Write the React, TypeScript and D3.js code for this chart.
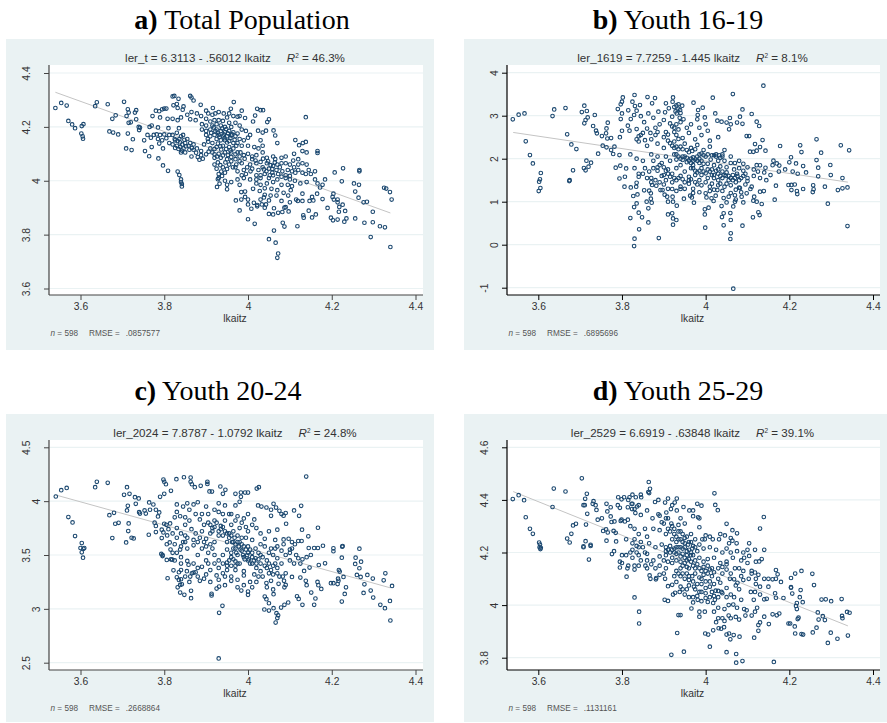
import * as d3 from 'd3'
import React, { useEffect, useRef } from 'react'

type Pt = [number, number]

const panelLetters = ['a)', 'b)', 'c)', 'd)']
const panelNames = ['Total Population', 'Youth 16-19', 'Youth 20-24', 'Youth 25-29']
const equations = ['ler_t = 6.3113 - .56012 lkaitz', 'ler_1619 = 7.7259 - 1.445 lkaitz', 'ler_2024 = 7.8787 - 1.0792 lkaitz', 'ler_2529 = 6.6919 - .63848 lkaitz']
const rSquared = ['46.3%', '8.1%', '24.8%', '39.1%']
const rmse = ['.0857577', '.6895696', '.2668864', '.1131161']
const intercepts = [6.3113, 7.7259, 7.8787, 6.6919]
const slopes = [-0.56012, -1.445, -1.0792, -0.63848]
const fitRange = [3.54, 4.34]
const xTicks = [3.6, 3.8, 4, 4.2, 4.4]
const yTicks = [
  [3.6, 3.8, 4, 4.2, 4.4],
  [-1, 0, 1, 2, 3, 4],
  [2.5, 3, 3.5, 4, 4.5],
  [3.8, 4, 4.2, 4.4, 4.6],
]

const totalPts: Pt[] = [
  [3.54,4.27],[3.554,4.289],[3.567,4.279],[3.571,4.222],[3.58,4.209],[3.587,4.195],[3.603,4.203],[3.607,4.21],[3.602,4.175],[3.605,4.165],[3.606,4.156],
  [3.635,4.277],[3.639,4.291],[3.665,4.284],[3.684,4.243],[3.676,4.23],[3.704,4.293],[3.713,4.265],[3.71,4.24],[3.715,4.253],[3.733,4.228],[3.733,4.262],[3.73,4.253],
  [3.669,4.183],[3.678,4.179],[3.69,4.172],[3.713,4.175],[3.725,4.154],[3.709,4.12],[3.722,4.114],[3.754,4.11],[3.764,4.091],[3.786,4.083],[3.797,4.057],[3.809,4.037],[3.715,4.215],[3.72,4.217],[3.739,4.2],[3.742,4.197],[3.74,4.188],
  [3.752,4.15],[3.765,4.2],[3.77,4.205],[3.785,4.198],[3.76,4.17],[3.775,4.17],[3.782,4.172],[3.79,4.17],[3.8,4.172],[3.768,4.16],[3.785,4.155],[3.795,4.15],[3.805,4.158],[3.788,4.138],[3.797,4.12],[3.77,4.125],[3.812,4.17],[3.82,4.17],[3.83,4.178],[3.812,4.14],[3.825,4.155],[3.836,4.155],[3.84,4.165],[3.845,4.17],[3.82,4.135],[3.83,4.13],[3.838,4.125],[3.85,4.14],[3.846,4.12],[3.855,4.155],[3.862,4.14],[3.87,4.135],[3.84,4.105],[3.85,4.105],[3.86,4.115],[3.87,4.115],[3.878,4.12],[3.888,4.11],[3.888,4.095],[3.865,4.09],[3.88,4.088],[3.892,4.082],
  [3.78,4.26],[3.788,4.258],[3.795,4.265],[3.8,4.268],[3.805,4.268],[3.772,4.24],[3.79,4.235],[3.808,4.23],[3.81,4.195],[3.82,4.23],[3.832,4.225],[3.835,4.195],[3.84,4.235],[3.82,4.313],[3.824,4.315],[3.834,4.304],[3.822,4.28],[3.83,4.285],[3.832,4.27],[3.846,4.276],[3.844,4.264],[3.862,4.315],[3.865,4.309],[3.87,4.298],[3.887,4.282],[3.916,4.27],[3.959,4.267],[3.966,4.292],[3.985,4.26],[4.022,4.267],[4.03,4.262],[4.036,4.262],[4.017,4.242],[4.012,4.22],[3.993,4.233],[3.98,4.24],[3.975,4.238],[4.046,4.218],[4.05,4.228],[4.043,4.186],[4.024,4.186],[4.035,4.179],[4.061,4.187],[4.065,4.168],[4.07,4.14],[4.113,4.151],[4.122,4.132],[4.131,4.14],[4.138,4.144],
  [3.855,4.245],[3.865,4.255],[3.878,4.25],[3.862,4.228],[3.875,4.225],[3.888,4.24],[3.9,4.26],[3.905,4.25],[3.915,4.245],[3.922,4.25],[3.93,4.255],[3.942,4.25],[3.955,4.25],[3.965,4.24],[3.95,4.235],[3.9,4.23],[3.91,4.22],[3.92,4.225],[3.93,4.225],[3.94,4.222],[3.955,4.215],[3.97,4.215],[3.98,4.205],[3.89,4.21],[3.9,4.205],[3.915,4.205],[3.925,4.21],[3.935,4.205],[3.945,4.2],[3.96,4.2],
  [3.89,4.19],[3.9,4.185],[3.91,4.19],[3.925,4.19],[3.935,4.185],[3.945,4.18],[3.955,4.185],[3.965,4.18],[3.975,4.175],[3.985,4.19],[3.995,4.185],[3.9,4.17],[3.91,4.165],[3.92,4.17],[3.93,4.17],[3.94,4.165],[3.95,4.165],[3.96,4.168],[3.97,4.165],[3.98,4.155],[3.99,4.15],[4,4.16],[4.005,4.17],[3.925,4.155],[3.935,4.15],[3.945,4.15],[3.955,4.148],[3.965,4.14],[3.975,4.14],[3.905,4.145],[3.915,4.14],[3.895,4.135],[3.91,4.12],[3.925,4.125],[3.94,4.13],[3.955,4.125],[3.965,4.12],[3.985,4.13],[4,4.13],[4.015,4.125],[4.03,4.15],[4.025,4.12],[4.035,4.13],
  [3.915,4.105],[3.93,4.1],[3.945,4.105],[3.96,4.105],[3.975,4.105],[3.99,4.095],[3.92,4.085],[3.935,4.085],[3.95,4.08],[3.97,4.08],[3.98,4.09],[4,4.1],[4.01,4.09],[4.02,4.095],[4.035,4.105],[4.045,4.085],[4.06,4.09],[4.065,4.08],[4.08,4.085],[4.09,4.09],[4.11,4.1],[4.13,4.11],[4.14,4.105],[4.166,4.11],[4.166,4.103],
  [3.92,4.06],[3.925,4.045],[3.93,4.025],[3.94,4.05],[3.945,4.03],[3.955,4.06],[3.97,4.05],[3.975,4.035],[3.985,4.065],[3.99,4.04],[3.995,4.025],[4.005,4.06],[4.01,4.045],[4.02,4.065],[4.025,4.04],[4.035,4.05],[4.045,4.065],[4.05,4.045],[4.06,4.055],[4.07,4.06],[4.08,4.065],[4.09,4.065],[4.1,4.06],[4.11,4.05],[4.12,4.06],[4.13,4.065],[4.14,4.06],[4.105,4.035],[4.113,4.03],[4.12,4.04],[4.13,4.03],[4.138,4.025],[4.145,4.04],[4.15,4.025],[4.16,4.035],[4.266,4.04],[4.266,4.035],[4.227,4.046],[4.207,4.031],[4.184,4.005],[4.16,4.005],
  [4.02,4.02],[4.03,4.01],[4.04,4.025],[4.05,4.01],[4.06,4.02],[4.07,4.005],[4.08,4.015],[4.09,4.02],[4.1,4.005],[4.112,4],[4.125,3.99],[4.14,3.995],[3.93,4.01],[3.945,4],[3.96,3.995],[3.975,4.005],[3.99,4.01],[4.005,4.005],[4.02,3.99],[4.03,3.985],[4.045,3.99],[4.06,3.995],[4.08,3.985],[4.095,3.985],[4.105,3.98],
  [3.842,3.979],[3.84,3.995],[3.926,3.977],[3.932,3.989],[3.95,3.985],[3.95,3.968],[3.971,3.927],[3.98,3.89],[3.984,3.93],[3.98,3.985],[3.984,3.958],[3.993,3.96],[3.993,3.94],[4,3.93],[4,3.912],[4.008,3.896],[4,3.857],[4.016,3.84],[4.014,3.918],[4.022,3.91],[4.022,3.905],[4.033,3.912],[4.043,3.912],[4.04,3.9],[4.05,3.927],[4.04,3.948],[4.038,3.938],[4.05,3.877],[4.06,3.875],[4.062,3.898],[4.072,3.881],[4.082,3.884],[4.087,3.9],[4.09,3.902],[4.097,3.886],[4.083,3.844],[4.087,3.83],[4.062,3.815],[4.05,3.783],[4.066,3.77],[4.072,3.73],[4.07,3.714],[4.118,3.831],[4.115,3.93],[4.119,3.925],[4.13,3.925],[4.13,3.952],[4.132,3.872],[4.133,3.863],[4.145,3.889],[4.147,3.925],[4.153,3.94],[4.156,3.927],[4.153,3.864],[4.162,3.875],[4.165,3.952],[4.178,3.932],[4.19,3.899],[4.198,3.863],[4.203,3.853],[4.214,3.856],[4.23,3.848],[4.235,3.86],[4.232,3.888],[4.226,3.911],[4.217,3.885],[4.218,3.903],[4.214,3.93],[4.214,3.92],[4.204,3.952],[4.202,3.94],[4.205,3.93],[4.256,3.86],[4.278,3.844],[4.298,3.885],[4.298,3.846],[4.293,3.791],[4.315,3.831],[4.327,3.827],[4.34,3.754],[4.343,3.93],[4.339,3.958],[4.325,3.974],[4.33,3.971],[4.284,3.922],[4.276,3.92],[4.264,3.937],[4.256,3.96],[4.253,3.99],[4.265,3.985],[4.224,3.998],[4.138,4.236],[4.166,3.99],[4.178,3.985],[4.172,3.975],
  // dense centre, second pass
  [3.832,4.034],[3.836,4.021],[3.84,4.005],[3.842,3.988],[3.826,4.15],[3.832,4.148],[3.838,4.142],[3.843,4.135],[3.826,4.122],[3.834,4.118],[3.842,4.112],[3.848,4.152],[3.852,4.128],[3.858,4.13],[3.866,4.122],[3.876,4.104],[3.884,4.078],[3.9,4.098],[3.906,4.108],[3.904,4.155],[3.912,4.178],[3.918,4.198],[3.922,4.184],[3.928,4.178],[3.932,4.162],[3.938,4.194],[3.942,4.172],[3.948,4.192],[3.952,4.176],[3.944,4.158],[3.95,4.142],[3.958,4.158],[3.962,4.172],[3.968,4.152],[3.972,4.13],[3.928,4.138],[3.934,4.128],[3.92,4.118],[3.936,4.116],[3.948,4.118],[3.958,4.112],[3.97,4.098],[3.982,4.105],[3.92,4.098],[3.926,4.09],[3.94,4.094],[3.952,4.096],[3.96,4.088],[3.972,4.06],[3.98,4.072],[3.992,4.082],[3.928,4.068],[3.934,4.058],[3.946,4.068],[3.96,4.072],[3.964,4.05],[3.95,4.044],[3.936,4.034],[3.928,4.006],[3.938,4.018],[4.01,4.08],[4.018,4.075],[4.03,4.07],[4.036,4.082],[4.048,4.072],[4.054,4.058],[4.058,4.044],[4.064,4.068],[4.068,4.04],[4.072,4.025],[4.076,4.05],[4.082,4.035],[4.058,4.03],[4.052,4.02],[4.044,4.035],[4.038,4.042],[4.03,4.02],[4.095,4.04],[4.1,4.018],[4.09,4.01],[4.108,4.075],[4.12,4.08],[4.02,4.005],[4.006,4.035],[3.998,4.05],[3.985,4.02],[4.012,3.97],[4.028,3.962],[4.04,3.972],[4.056,3.97],[4.07,3.965],[4.085,3.955],[4.096,3.945],[4.102,3.965],[4.068,3.945],[4.054,3.945],[4.03,3.93],[4.08,3.925],[4.1,3.92],
]

const y1619Pts: Pt[] = [
  [3.539,2.915],[3.553,3.023],[3.567,3.054],[3.57,2.403],[3.58,2.085],[3.587,1.891],[3.606,1.667],[3.604,1.52],[3.602,1.465],[3.605,1.318],[3.601,1.248],[3.634,2.992],[3.638,3.147],[3.665,3.178],[3.669,2.566],[3.679,2.333],[3.691,2.225],[3.683,1.729],[3.675,1.5],[3.674,1.48],[3.704,3.085],[3.71,3.233],[3.716,3.109],[3.718,2.961],[3.713,2.9],[3.71,2.822],[3.735,3.016],[3.731,2.76],[3.738,2.651],[3.74,2.59],[3.715,1.953],[3.709,1.783],[3.713,1.729],[3.72,1.814],[3.726,1.907],[3.743,2.116],[3.752,2.527],
  [3.766,2.837],[3.763,2.705],[3.762,2.59],[3.765,2.47],[3.774,2.48],[3.754,2.302],[3.763,2.264],[3.774,2.2],[3.782,2.279],[3.779,2.109],[3.794,2.085],[3.785,1.791],[3.796,1.837],[3.794,1.54],[3.807,1.58],[3.81,1.775],[3.802,3.426],[3.8,3.326],[3.797,3.264],[3.79,3.155],[3.8,3.054],[3.797,2.922],[3.815,3.124],[3.83,3.481],[3.825,3.326],[3.831,3.225],[3.843,3.248],[3.835,3.116],[3.829,3.016],[3.821,2.922],[3.814,2.767],[3.835,2.69],[3.818,2.651],[3.8,2.65],[3.795,2.5],
  [3.861,3.434],[3.879,3.411],[3.872,3.287],[3.887,3.093],[3.863,3.054],[3.905,3.287],[3.922,3.426],[3.921,3.326],[3.912,3.171],[3.903,3.078],[3.935,3.264],[3.944,3.233],[3.939,3.132],[3.931,3.054],[3.92,2.977],[3.947,2.915],[3.971,3.302],[3.982,3.132],[3.993,3.186],[3.981,3.016],[3.98,2.915],[3.998,2.961],[4.017,3.419],[4.023,3.054],[4.065,3.504],[4.138,3.698],[4.088,3.147],[4.11,3.039],[4.082,2.977],[4.058,2.946],[4.028,2.884],[4.038,2.86],[4.05,2.84],[4.06,2.8],[4.075,2.84],[4.088,2.81],[4.122,2.86],[4.128,2.76],[4.056,2.682],[4.098,2.527],[4.104,2.527],[4.136,2.434],[4.118,2.341],[4.13,2.271],[4.122,2.186],[4.114,2.16],[4.106,2.163],[4.143,2.186],[4.178,2.295],[4.265,2.45],[4.226,2.31],[4.323,2.31],[4.343,2.194],[4.276,2.14],[4.229,2.155],[4.265,1.969],[4.204,2.031],[4.216,1.891],[4.233,1.829],[4.298,1.853],[4.269,1.791],[4.299,1.62],[4.269,1.589],[4.327,1.55],[4.2,1.915],[4.17,1.89],[4.16,1.85],[4.176,1.84],[4.162,1.953],[4.13,1.845],[4.122,1.85],[4.143,1.79],
  [3.845,2.99],[3.853,2.85],[3.86,2.7],[3.875,2.95],[3.89,2.8],[3.9,2.9],[3.915,2.82],[3.925,2.72],[3.94,2.85],[3.955,2.72],[3.965,2.8],[3.985,2.72],[4,2.8],[4.005,2.65],[3.85,2.6],[3.87,2.45],[3.885,2.62],[3.9,2.5],[3.91,2.42],[3.93,2.55],[3.945,2.48],[3.96,2.6],[3.975,2.45],[3.99,2.55],[4.01,2.42],[4.03,2.5],[3.84,2.4],[3.86,2.3],[3.885,2.35],[3.9,2.25],[3.92,2.3],[3.935,2.22],[3.95,2.35],[3.965,2.25],[3.98,2.32],[3.995,2.2],[4.01,2.28],[4.025,2.1],[4.045,2.2],[4.06,2.05],
  [3.82,2.1],[3.835,2],[3.85,1.95],[3.87,2.1],[3.875,1.95],[3.885,2.05],[3.895,1.9],[3.905,2.05],[3.915,1.95],[3.925,2.1],[3.93,1.98],[3.94,1.85],[3.945,2.05],[3.955,1.92],[3.965,2],[3.97,1.85],[3.98,2.05],[3.985,1.9],[3.99,1.78],[4,2.05],[4.005,1.88],[4.012,1.98],[4.02,2.08],[4.03,1.95],[4.035,1.82],[4.04,2.1],[4.045,1.95],[4.05,1.8],[4.06,1.9],[4.068,1.75],[4.08,1.95],[4.09,1.88],[4.1,1.8],[4.115,1.75],[4.125,1.7],[4.14,1.68],[4.175,1.7],[4.19,1.75],[4.208,1.7],[4.22,1.65],[4.24,1.68],
  [3.83,1.78],[3.84,1.65],[3.855,1.78],[3.87,1.55],[3.885,1.72],[3.895,1.6],[3.91,1.75],[3.92,1.65],[3.93,1.78],[3.935,1.55],[3.95,1.7],[3.96,1.58],[3.97,1.78],[3.975,1.62],[3.985,1.5],[3.995,1.7],[4.005,1.55],[4.015,1.75],[4.02,1.62],[4.03,1.5],[4.04,1.7],[4.048,1.6],[4.055,1.5],[4.065,1.62],[4.075,1.65],[4.09,1.6],[4.1,1.55],[4.115,1.6],[4.13,1.55],[4.145,1.5],[4.155,1.62],
  [3.9,1.4],[3.92,1.45],[3.94,1.35],[3.96,1.42],[3.97,1.3],[3.99,1.38],[4.01,1.35],[4.02,1.28],[4.035,1.42],[4.045,1.35],[4.06,1.38],[4.072,1.28],[4.08,1.33],[4.095,1.4],[4.11,1.35],
  [4.339,0.434],[4.292,0.953],[4.339,1.333],[4.327,1.31],[4.316,1.271],[4.285,1.349],[4.257,1.38],[4.258,1.287],[4.256,1.225],[4.233,1.295],[4.218,1.248],[4.219,1.178],[4.205,1.271],[4.198,1.388],[4.205,1.39],[4.213,1.4],[4.168,1.372],[4.165,1.046],[4.139,1.248],[4.13,1.233],[4.134,0.946],[4.122,1],[4.116,1.116],[4.114,1.023],[4.126,0.752],[4.129,0.69],[4.113,0.636],[4.088,0.442],[4.06,0.264],[4.059,0.132],[4.066,-1.023],[4.06,0.574],[4.043,0.45],[4.039,0.643],[4.043,0.729],[4.059,0.736],[4.066,0.891],[4.05,0.984],[4.038,0.899],[4.055,1.116],[4.043,1.085],[4.09,0.984],[4.072,1.05],[4.07,1],[4.086,1.116],[4.082,1.318],[4.098,1.194],[4.107,1.295],
  [3.999,0.395],[4.007,0.86],[3.998,0.822],[3.998,0.705],[4.002,1.1],[4.019,1.016],[4.014,1.078],[4.024,1.14],[4,1.194],[4.01,1.248],[4.028,1.271],[3.972,0.977],[3.967,1.1],[3.963,1.14],[3.948,1.07],[3.931,0.907],[3.922,1],[3.921,1.116],[3.91,1],[3.908,1.116],[3.902,1.163],[3.892,1.271],[3.897,1.271],[3.92,1.295],[3.94,1.295],[3.91,0.705],[3.92,0.729],[3.922,0.612],[3.93,0.574],[3.922,0.465],[3.888,0.155],[3.863,0.519],[3.863,0.845],[3.871,0.977],[3.869,1.07],[3.859,1],[3.865,1.256],[3.869,1.194],[3.853,1.264],[3.872,1.388],[3.882,1.372],[3.837,1.17],[3.827,1.132],[3.835,0.96],[3.829,0.876],[3.84,0.744],[3.848,0.636],[3.82,0.62],[3.841,0.357],[3.83,0.14],[3.829,-0.031],[3.806,1.349],[3.821,1.333],[3.834,1.349],[3.835,1.44],
  // dense centre, second pass
  [3.925,3.2],[3.93,3.24],[3.935,3.16],[3.94,3.06],[3.928,3.1],[3.938,2.95],[3.93,2.8],[3.92,2.75],[3.935,2.68],[3.925,2.62],[3.88,2.72],[3.88,2.55],[3.868,2.6],[3.845,2.55],[3.835,2.45],[3.84,2.52],[3.855,2.43],[3.905,2.62],[3.91,2.56],[3.935,2.46],[3.925,2.4],[3.915,2.36],[3.925,2.25],[3.93,2.28],[3.94,2.28],[3.945,2.22],[3.955,2.2],[3.96,2.15],[3.968,2.18],[3.975,2.22],[3.985,2.1],[3.99,2.12],[3.995,2.08],[4.005,2.1],[4.015,2.08],[4.025,2.05],[4.032,2.08],[4.035,2.02],[4.04,2.05],[3.93,2.1],[3.935,2.05],[3.94,2],[3.945,1.97],[3.95,2.05],[3.955,2.02],[3.96,1.95],[3.965,1.9],[3.97,1.95],[3.97,2.03],[3.975,1.98],[3.98,1.95],[3.985,2],[3.99,1.95],[3.995,1.88],[3.965,1.78],[3.975,1.72],[3.98,1.68],[3.985,1.72],[3.99,1.62],[4,1.66],[4.005,1.75],[4.01,1.7],[4.015,1.62],[4.02,1.55],[4.025,1.72],[4.03,1.65],[4.035,1.6],[4.04,1.55],[4.045,1.62],[4.05,1.68],[4.055,1.6],[4.06,1.55],[4.065,1.5],[4.07,1.55],[4.072,1.45],[4.076,1.6],[4.08,1.5],[4.085,1.55],[4.095,1.65],[4.1,1.48],[3.9,1.8],[3.905,1.72],[3.91,1.65],[3.9,1.62],[3.915,1.58],[3.905,1.5],[3.925,1.55],[3.93,1.5],[3.94,1.6],[3.945,1.52],[3.95,1.45],[3.96,1.5],[3.965,1.52],[3.975,1.45],[3.89,1.85],[3.885,1.8],[3.875,1.78],[3.865,1.7],[3.85,1.65],[3.84,1.58],[3.86,1.55],[3.87,1.45],[3.88,1.5],[3.89,1.45],[3.98,1.4],[4,1.45],[4.015,1.42],[4.03,1.38],[4.05,1.42],[4.04,1.25],[4.06,1.2],[4.07,1.15],[4.085,1.22],[3.95,1.3],[3.93,1.25],[3.91,1.3],[3.97,1.2],[3.985,1.22],[4.02,1.85],[4.03,1.75],[4.07,1.9],[4.08,1.78],[4.09,1.72],
]

const y2024Pts: Pt[] = [
  [3.541,4.043],[3.554,4.102],[3.567,4.123],[3.571,3.852],[3.581,3.802],[3.587,3.676],[3.603,3.611],[3.6,3.565],[3.609,3.565],[3.607,3.557],[3.603,3.525],[3.606,3.475],[3.635,4.13],[3.639,4.179],[3.665,4.17],[3.711,4.13],[3.704,4.059],[3.717,4.068],[3.73,4.037],[3.739,4.025],[3.732,3.975],[3.713,3.957],[3.711,3.914],[3.68,3.892],[3.669,3.87],[3.683,3.79],[3.691,3.799],[3.715,3.793],[3.714,3.722],[3.676,3.657],[3.709,3.617],[3.722,3.66],[3.727,3.654],[3.763,3.688],[3.74,3.898],[3.742,3.885],[3.753,3.914],[3.756,3.885],[3.764,3.988],[3.774,3.969],[3.766,3.92],[3.78,3.92],[3.788,3.895],[3.785,3.858],[3.777,3.8],[3.78,3.77],[3.78,3.713],[3.794,3.735],[3.798,3.71],[3.794,3.657],[3.807,3.682],[3.813,3.617],[3.8,3.79],[3.805,3.78],[3.814,3.793],[3.79,4.04],[3.8,4.068],[3.798,4.2],[3.8,4.18],[3.804,4.157],[3.816,4.096],[3.829,4.204],[3.847,4.222],[3.863,4.219],[3.863,4.18],[3.866,4.157],[3.873,4.13],[3.887,4.142],[3.903,4.179],[3.903,4.16],[3.908,4.09],[3.914,4.089],[3.934,4.136],[3.946,4.105],[3.94,4.068],[3.97,4.068],[3.983,4.08],[3.993,4.08],[4,4.08],[4.021,4.117],[4.026,4.13],[3.983,4.04],[3.98,3.994],[4.024,3.96],[4.032,3.95],[4.044,3.941],[4.061,3.975],[4.067,3.94],[4.055,3.92],[4.075,3.91],[4.055,3.864],[4.09,3.89],[4.085,3.865],[4.08,3.88],[4.091,3.79],[4.07,3.735],[4.11,3.914],[4.122,3.864],[4.127,3.957],[4.139,4.228],[4.167,3.753],[4.129,3.735],[4.144,3.673],[4.097,3.651],[4.085,3.645],[4.105,3.62],[4.12,3.63],[4.128,3.63],[4.112,3.6],[4.226,3.583],[4.266,3.559],[4.179,3.586],[4.167,3.565],[4.158,3.565],[4.145,3.565],
  [4.225,3.577],[4.204,3.562],[4.204,3.535],[4.224,3.475],[4.257,3.475],[4.27,3.438],[4.256,3.417],[4.266,3.377],[4.26,3.315],[4.269,3.296],[4.285,3.315],[4.298,3.281],[4.328,3.33],[4.324,3.265],[4.278,3.228],[4.276,3.148],[4.293,3.17],[4.299,3.105],[4.344,3.213],[4.339,3.074],[4.316,3.037],[4.327,3.006],[4.34,2.892],[4.234,3.2],[4.231,3.139],[4.224,3.068],[4.217,3.36],[4.219,3.346],[4.228,3.296],[4.215,3.28],[4.216,3.26],[4.204,3.238],[4.198,3.238],[4.214,3.23],[4.184,3.423],[4.169,3.407],[4.175,3.185],[4.158,3.037],[4.151,3.151],[4.161,3.096],[4.166,3.25],[4.168,3.22],[4.14,3.22],[4.138,3.26],[4.125,3.29],[4.134,3.352],[4.147,3.383],[4.13,3.037],[4.117,3.117],[4.121,3.092],[4.096,3.059],[4.087,3.037],[4.079,3.012],[4.039,2.994],[4.05,2.984],[4.061,3.006],[4.068,2.96],[4.072,2.94],[4.07,2.914],[4.066,2.873],[4.04,3.114],[4.044,3.09],[4.05,3.052],[4.061,3.136],[4.06,3.18],[4.045,3.2],[4.044,3.24],[4.073,3.232],[4.087,3.2],[4.086,3.26],[4.09,3.222],[4.105,3.296],[4.083,3.3],[4.09,3.33],
  [3.93,2.54],[3.931,2.963],[3.939,3.028],[3.913,3.14],[3.913,3.124],[3.925,3.188],[3.931,3.207],[3.984,3.17],[4,3.16],[4,3.13],[3.864,3.099],[3.864,3.167],[3.848,3.13],[3.838,3.151],[3.842,3.228],[3.838,3.222],[3.832,3.2],[3.808,3.284],[3.822,3.358],[3.83,3.293],[3.835,3.269],[3.84,3.275],[3.835,3.34],[3.84,3.36],[3.819,3.457],[3.806,3.454],[3.796,3.5],[3.84,3.48],[3.83,3.52],[3.82,3.52],[3.855,3.445],[3.858,3.41],[3.854,3.35],[3.866,3.33],[3.862,3.3],[3.87,3.336],
  [3.83,3.97],[3.83,3.9],[3.825,3.85],[3.838,3.86],[3.845,3.95],[3.855,3.98],[3.85,3.85],[3.85,3.78],[3.86,3.82],[3.86,3.92],[3.87,3.97],[3.88,3.99],[3.875,3.88],[3.885,3.83],[3.9,3.95],[3.905,3.88],[3.895,3.78],[3.905,3.8],[3.915,3.75],[3.92,3.82],[3.93,3.98],[3.93,3.9],[3.935,3.77],[3.945,3.96],[3.955,3.88],[3.945,3.82],[3.96,3.78],[3.965,3.72],[3.97,3.96],[3.975,3.86],[3.98,3.75],[3.99,3.84],[3.995,3.76],[4,3.88],[4.01,3.78],[4.015,3.83],[3.83,3.75],[3.84,3.7],[3.85,3.68],[3.865,3.74],[3.875,3.7],[3.88,3.62],[3.89,3.72],[3.9,3.65],[3.91,3.7],[3.92,3.62],[3.93,3.72],[3.94,3.68],[3.95,3.62],[3.955,3.7],[3.965,3.62],[3.975,3.68],[3.985,3.6],[3.995,3.66],[4,3.58],[4.01,3.64],[4.02,3.75],[4.03,3.7],[4.04,3.65],[4.05,3.72],[4.03,3.6],[4.055,3.56],[4.065,3.64],[4.07,3.58],[4.085,3.6],[4.1,3.55],
  [3.95,3.55],[3.96,3.52],[3.97,3.56],[3.975,3.5],[3.985,3.54],[3.99,3.48],[4,3.52],[4.005,3.55],[4.01,3.48],[4.018,3.56],[4.025,3.52],[4.03,3.5],[3.905,3.52],[3.92,3.5],[3.93,3.45],[3.94,3.5],[3.95,3.43],[3.96,3.4],[3.97,3.44],[3.98,3.42],[3.99,3.35],[4,3.45],[4.01,3.42],[4.02,3.38],[4.03,3.35],[4.045,3.45],[4.06,3.5],[4.07,3.47],[4.08,3.42],[4.1,3.45],[4.115,3.5],[4.12,3.47],[4.13,3.46],[3.9,3.32],[3.91,3.36],[3.925,3.31],[3.94,3.33],[3.96,3.3],[3.97,3.36],[3.975,3.27],[3.99,3.31],[4.005,3.25],[4.015,3.32],[4.025,3.3],[4.035,3.3],[4.05,3.33],[4.06,3.32],[4.07,3.33],
  [3.87,3.59],[3.89,3.56],[3.9,3.45],[3.88,3.5],[3.855,3.56],[3.838,3.55],[3.816,3.46],[3.793,3.51],[3.796,3.49],[3.806,3.6],[3.85,3.62],[3.87,3.42],[3.88,3.38],[3.89,3.39],[3.875,3.34],[3.88,3.3],[3.905,3.42],
  // dense centre, second pass
  [3.91,3.78],[3.915,3.72],[3.92,3.76],[3.925,3.8],[3.93,3.68],[3.935,3.74],[3.94,3.76],[3.945,3.72],[3.95,3.7],[3.955,3.66],[3.96,3.68],[3.962,3.62],[3.965,3.56],[3.968,3.66],[3.97,3.6],[3.972,3.52],[3.975,3.62],[3.978,3.58],[3.98,3.62],[3.982,3.55],[3.985,3.66],[3.988,3.5],[3.99,3.58],[3.992,3.46],[3.995,3.55],[3.998,3.5],[4.002,3.46],[4.005,3.42],[4.01,3.52],[4.014,3.45],[4.018,3.47],[4.02,3.42],[4.025,3.46],[4.03,3.42],[4.035,3.48],[4.04,3.4],[4.045,3.38],[4.05,3.42],[4.055,3.36],[4.06,3.4],[4.065,3.42],[4.07,3.38],[4.075,3.3],[4.055,3.26],[3.95,3.4],[3.955,3.45],[3.96,3.48],[3.965,3.46],[3.97,3.4],[3.975,3.42],[3.945,3.3],[3.95,3.36],[3.94,3.42],[3.93,3.38],[3.92,3.42],[3.915,3.56],[3.91,3.6],[3.9,3.58],[3.895,3.62],[3.885,3.66],[3.87,3.64],[3.855,3.66],[3.845,3.62],[3.84,3.58],[3.83,3.66],[3.825,3.6],[3.82,3.7],[3.81,3.74],[3.815,3.55],[3.825,3.45],[3.84,3.42],[3.85,3.3],[3.86,3.25],[3.885,3.26],[3.895,3.28],[3.91,3.25],[3.93,3.27],[3.945,3.22],[3.96,3.26],[3.975,3.2],[3.99,3.22],[4.01,3.2],[4.02,3.25],[3.89,3.88],[3.92,3.92],[3.94,3.88],[3.96,3.88],[3.97,3.82],[3.985,3.8],[4,3.72],[4.04,3.58],[4.05,3.52],[4.065,3.56],[4.08,3.54],[4.09,3.5],[4.1,3.52],[4.105,3.56],[4.11,3.42],[4.125,3.42],[4.14,3.48],[4.15,3.5],
]

const y2529Pts: Pt[] = [
  [3.539,4.403],[3.553,4.418],[3.566,4.399],[3.57,4.334],[3.58,4.29],[3.587,4.271],[3.602,4.238],[3.604,4.23],[3.603,4.22],[3.605,4.213],[3.606,4.218],[3.637,4.443],[3.665,4.432],[3.634,4.373],[3.704,4.482],[3.716,4.423],[3.712,4.404],[3.708,4.38],[3.711,4.38],[3.732,4.395],[3.73,4.385],[3.737,4.38],[3.717,4.347],[3.739,4.362],[3.714,4.306],[3.683,4.303],[3.69,4.309],[3.669,4.253],[3.675,4.238],[3.679,4.271],[3.708,4.223],[3.713,4.243],[3.725,4.229],[3.721,4.173],[3.708,4.22],[3.725,4.225],
  [3.742,4.325],[3.752,4.33],[3.755,4.282],[3.762,4.288],[3.766,4.276],[3.763,4.385],[3.773,4.372],[3.765,4.356],[3.773,4.337],[3.775,4.316],[3.782,4.318],[3.763,4.245],[3.786,4.242],[3.78,4.282],[3.785,4.275],[3.791,4.41],[3.799,4.402],[3.805,4.41],[3.79,4.38],[3.795,4.37],[3.797,4.32],[3.799,4.325],[3.807,4.318],[3.814,4.325],[3.815,4.4],[3.818,4.41],[3.825,4.42],[3.833,4.41],[3.845,4.42],[3.846,4.41],[3.864,4.468],[3.863,4.43],[3.867,4.442],[3.865,4.426],[3.879,4.392],[3.887,4.4],[3.91,4.405],[3.931,4.405],[3.903,4.39],[3.906,4.352],[3.92,4.38],[3.917,4.365],[3.926,4.39],[3.931,4.36],[3.947,4.373],
  [3.825,4.385],[3.814,4.372],[3.823,4.385],[3.824,4.365],[3.832,4.35],[3.84,4.38],[3.836,4.375],[3.83,4.365],[3.845,4.343],[3.86,4.36],[3.887,4.345],[3.89,4.34],[3.873,4.33],[3.905,4.33],[3.895,4.315],[3.91,4.33],[3.918,4.31],[3.94,4.33],[3.935,4.305],[3.95,4.31],[3.961,4.36],[3.97,4.36],[3.98,4.385],[3.99,4.378],[4.021,4.425],[4.023,4.381],[4.029,4.361],[3.97,4.338],[3.982,4.334],[3.985,4.33],[3.985,4.296],[4.05,4.309],[4.064,4.285],[4.075,4.273],[4.035,4.27],[4.046,4.265],[4.13,4.291],[4.139,4.335],[4.104,4.235],[4.074,4.235],[4.06,4.255],[4.064,4.245],[4.056,4.235],[4.032,4.25],[4,4.265],[4.01,4.26],[4.017,4.25],[3.992,4.25],[3.998,4.25],[4.118,4.21],[4.14,4.21],
  [3.82,4.3],[3.83,4.29],[3.84,4.27],[3.855,4.29],[3.86,4.26],[3.875,4.29],[3.89,4.285],[3.905,4.27],[3.915,4.28],[3.925,4.27],[3.935,4.28],[3.945,4.27],[3.95,4.255],[3.965,4.27],[3.975,4.25],[3.92,4.25],[3.93,4.24],[3.94,4.25],[3.95,4.235],[3.96,4.24],[3.97,4.225],[3.985,4.23],[3.995,4.215],[3.81,4.25],[3.83,4.25],[3.845,4.24],[3.85,4.22],[3.865,4.235],[3.88,4.22],[3.895,4.23],[3.905,4.22],[3.915,4.225],[3.925,4.215],[3.935,4.22],[3.945,4.215],[3.955,4.205],[3.965,4.2],[3.98,4.205],[4.01,4.22],[4.025,4.21],[4.04,4.2],[4.05,4.215],[4.06,4.2],[4.075,4.205],[4.09,4.2],[4.1,4.21],
  [3.776,4.194],[3.781,4.205],[3.8,4.19],[3.795,4.143],[3.795,4.165],[3.8,4.16],[3.811,4.108],[3.815,4.15],[3.813,4.14],[3.83,4.15],[3.83,4.135],[3.84,4.15],[3.856,4.15],[3.845,4.17],[3.86,4.17],[3.81,4.19],[3.825,4.18],[3.84,4.19],[3.86,4.195],[3.875,4.17],[3.89,4.185],[3.905,4.19],[3.92,4.18],[3.93,4.195],[3.94,4.185],[3.955,4.17],[3.965,4.19],[3.975,4.17],[3.985,4.18],[3.995,4.165],[4.005,4.175],[4.02,4.18],[4.035,4.16],[4.05,4.165],[4.065,4.18],[4.085,4.17],[4.08,4.14],[4.1,4.16],[4.11,4.13],
  [3.866,4.113],[3.868,4.1],[3.882,4.103],[3.881,4.098],[3.903,4.1],[3.91,4.072],[3.92,4.077],[3.927,4.047],[3.938,4.05],[3.922,4.04],[3.93,4.088],[3.94,4.11],[3.95,4.1],[3.96,4.095],[3.968,4.11],[3.975,4.12],[3.985,4.105],[3.995,4.115],[4.005,4.12],[4.015,4.11],[3.96,4.075],[3.972,4.07],[3.985,4.05],[3.97,4.03],[3.975,4.06],[4,4.065],[4.01,4.07],[4,4.027],[3.99,4.015],[3.97,4.01],[3.981,4.02],[4.005,4.012],[4.022,4.02],[4.018,4.008],[4.024,4.055],[4.03,4.054],[4.038,4.05],[4.05,4.065],[4.06,4.04],[4.068,4.03],[4.08,4.06],[4.072,4.075],[4.068,4.098],[4.05,4.135],[4.058,4.1],[4.076,4.085],[4.085,4.11],[4.09,4.095],
  [4.229,4.13],[4.214,4.12],[4.204,4.103],[4.255,4.119],[4.259,4.076],[4.227,4.057],[4.204,4.068],[4.204,4.066],[4.207,4.044],[4.225,4.03],[4.232,4.011],[4.186,4.027],[4.218,4.008],[4.216,3.997],[4.218,3.985],[4.277,4.021],[4.287,4.022],[4.3,4.015],[4.325,4.023],[4.268,3.972],[4.28,3.958],[4.285,3.943],[4.27,3.945],[4.326,3.959],[4.327,3.95],[4.338,3.974],[4.344,3.971],[4.34,3.884],[4.315,3.872],[4.292,3.856],[4.299,3.895],[4.265,3.914],[4.256,3.896],[4.233,3.888],[4.229,3.89],[4.214,3.892],[4.213,3.919],[4.222,3.952],[4.22,3.947],[4.198,3.93],[4.202,3.93],[4.176,3.968],[4.17,3.961],[4.16,3.965],[4.151,3.928],[4.14,3.956],[4.13,3.934],[4.126,3.924],[4.126,3.902],[4.116,3.876],[4.163,3.784],[4.088,3.787],[4.073,3.781],[4.073,3.814],[4.05,3.821],[4.01,3.842],[3.948,3.823],[3.918,3.811],[4.081,3.88],[4.059,3.87],[4.067,3.886],[4.05,3.888],[4.056,3.892],[3.999,3.892],[4.006,3.888],[4.018,3.904],[4.031,3.912],[4.037,3.91],[4.044,3.916],[3.932,3.894],[3.935,3.962],[3.94,3.962],[3.841,3.93],[3.841,3.975],[3.83,4.029],[3.902,4.02],[3.91,4.016],[3.966,3.987],[3.985,3.956],[3.985,3.975],[3.998,3.975],[4.066,4.002],[4.075,3.99],[4.092,3.985],[4.098,3.98],[4.118,3.975],[4.123,3.99],
  [4.108,4.05],[4.118,4.05],[4.13,4.04],[4.14,4.022],[4.146,4.024],[4.166,4.045],[4.168,4.028],[4.103,4.1],[4.11,4.12],[4.118,4.124],[4.126,4.115],[4.15,4.1],[4.16,4.098],[4.168,4.1],[4.18,4.088],[4.168,4.133],[4.172,4.117],[4.14,4.1],[4.134,4.175],[4.128,4.166],[4.12,4.165],[4.092,4.18],[4.104,4.187],[4.115,4.02],[4.085,4.02],[4.05,4.03],[4.04,4.045],[4.03,4.03],[4.02,4.035],[3.99,4.08],
  // dense centre, second pass
  [3.9,4.31],[3.91,4.29],[3.92,4.3],[3.925,4.29],[3.93,4.26],[3.935,4.25],[3.94,4.28],[3.945,4.24],[3.95,4.22],[3.955,4.26],[3.958,4.23],[3.96,4.21],[3.965,4.24],[3.968,4.215],[3.97,4.19],[3.975,4.22],[3.93,4.22],[3.935,4.2],[3.94,4.22],[3.945,4.195],[3.95,4.18],[3.955,4.19],[3.96,4.175],[3.925,4.2],[3.92,4.21],[3.915,4.2],[3.91,4.21],[3.905,4.205],[3.9,4.17],[3.91,4.165],[3.92,4.16],[3.93,4.17],[3.94,4.165],[3.945,4.15],[3.95,4.16],[3.955,4.145],[3.96,4.14],[3.965,4.165],[3.97,4.15],[3.975,4.14],[3.98,4.155],[3.985,4.14],[3.99,4.13],[3.995,4.145],[4,4.13],[4.005,4.15],[4.01,4.135],[4.015,4.14],[4.02,4.125],[3.94,4.14],[3.93,4.13],[3.925,4.11],[3.935,4.12],[3.945,4.12],[3.955,4.12],[3.96,4.11],[3.97,4.09],[3.98,4.08],[3.99,4.1],[4,4.09],[3.905,4.14],[3.89,4.15],[3.88,4.14],[3.87,4.155],[3.86,4.14],[3.855,4.2],[3.835,4.225],[3.825,4.235],[3.825,4.21],[3.835,4.2],[3.82,4.2],[3.84,4.22],[3.9,4.12],[3.89,4.115],[3.955,4.06],[3.945,4.06],[3.96,4.03],[3.95,4.04],[3.94,4.07],[3.99,4.05],[4,4.045],[4.01,4.03],[3.98,4.035],[4.015,4.05],[4.03,4.1],[4.04,4.12],[4.035,4.085],[4.02,4.08],[4.01,4.09],[4.03,4.14],[4.04,4.145],[4.05,4.155],[4.06,4.12],[4.07,4.14],[4.09,4.13],[4.12,4.1],[4.12,4.08],[4.13,4.07],[4.15,4.07],[4.055,3.96],[4.04,3.95],[4.03,3.95],[4.025,3.935],[4.045,3.94],[4.06,3.95],[4.072,3.955],[4.08,3.945],[4.02,3.975],[4.03,3.99],[4.045,3.985],[4.055,4],[4.095,3.96],[4.11,3.96],
]

const panelPts = [totalPts, y1619Pts, y2024Pts, y2529Pts]

// pixel frame of each panel: background box, plot box, tick anchors
const frames = [
  { bg: [6, 39, 428, 311], left: 49, right: 423, top: 65, bottom: 295, xAt: [80.5, 415.5], yAt: [288.5, 73], titleX: 242, titleY: 29, axis: '#444' },
  { bg: [464, 39, 428, 311], left: 507, right: 880, top: 65, bottom: 295, xAt: [538.3, 873], yAt: [287.7, 72.7], titleX: 678, titleY: 29, axis: '#000' },
  { bg: [6, 414, 428, 308], left: 49, right: 423, top: 440, bottom: 670, xAt: [80.5, 415.5], yAt: [662.7, 447.3], titleX: 218, titleY: 400, axis: '#444' },
  { bg: [464, 414, 428, 308], left: 507, right: 880, top: 440, bottom: 670, xAt: [538.3, 873], yAt: [657.7, 447.3], titleX: 678, titleY: 400, axis: '#000' },
]

const sans = "'Liberation Sans', Arial, sans-serif"
const serif = "'Liberation Serif', 'Times New Roman', serif"
const navy = '#1a476f'
const bgColor = '#eaf2f3'

export default function App() {
  const sandbox = useRef<SVGSVGElement>(null)

  useEffect(() => {
    const svg = d3.select(sandbox.current)
    svg.selectAll('*').remove()

    frames.forEach((f, i) => {
      const g = svg.append('g')
      const yt = yTicks[i]
      const x = d3.scaleLinear().domain([3.6, 4.4]).range(f.xAt)
      const y = d3.scaleLinear().domain([yt[0], yt[yt.length - 1]]).range(f.yAt)

      //title
      const title = g.append('text').attr('x', f.titleX).attr('y', f.titleY)
        .attr('text-anchor', 'middle').attr('font-family', serif).attr('font-size', 28).attr('fill', '#000')
      title.append('tspan').attr('font-weight', 'bold').text(panelLetters[i])
      title.append('tspan').text(' ' + panelNames[i])

      //background + plot area
      g.append('rect').attr('x', f.bg[0]).attr('y', f.bg[1]).attr('width', f.bg[2]).attr('height', f.bg[3]).attr('fill', bgColor)
      g.append('rect').attr('x', f.left).attr('y', f.top).attr('width', f.right - f.left).attr('height', f.bottom - f.top).attr('fill', '#fff')

      //grid
      g.selectAll('.grid').data(yt).join('line')
        .attr('x1', f.left).attr('x2', f.right)
        .attr('y1', (d) => y(d)).attr('y2', (d) => y(d))
        .attr('stroke', bgColor).attr('stroke-width', 1.2)

      //axes
      const xAxis = g.append('g').attr('transform', `translate(0,${f.bottom})`)
        .call(d3.axisBottom(x).tickValues(xTicks).tickFormat((d) => String(d)).tickSize(5).tickSizeOuter(0))
      const yAxis = g.append('g').attr('transform', `translate(${f.left},0)`)
        .call(d3.axisLeft(y).tickValues(yt).tickFormat((d) => String(d)).tickSize(5).tickSizeOuter(0))
      xAxis.select('.domain').attr('d', `M${f.left},0H${f.right}`).attr('stroke', f.axis).attr('stroke-width', 1.2)
      yAxis.select('.domain').attr('d', `M0,${f.top}V${f.bottom}`).attr('stroke', f.axis).attr('stroke-width', 1.2)
      xAxis.selectAll('.tick line').attr('stroke', f.axis)
      yAxis.selectAll('.tick line').attr('stroke', f.axis)
      xAxis.selectAll('.tick text').attr('y', 8).attr('dy', '0.71em').attr('font-family', sans).attr('font-size', 10.3).attr('fill', '#333')
      yAxis.selectAll('.tick text')
        .attr('x', null).attr('dy', null).attr('text-anchor', 'middle')
        .attr('transform', (d) => `translate(${String(d).length > 1 ? -19.5 : -9},0) rotate(-90) scale(1,1.15)`)
        .attr('font-family', sans).attr('font-size', 10.3).attr('fill', '#333')

      //fit line
      const fit = d3.line<number>().x((d) => x(d)).y((d) => y(intercepts[i] + slopes[i] * d))
      g.append('path').attr('d', fit(fitRange)).attr('fill', 'none').attr('stroke', '#c4c4c4').attr('stroke-width', 1)

      //points
      g.append('g').selectAll('circle').data(panelPts[i]).join('circle')
        .attr('cx', (d) => x(d[0])).attr('cy', (d) => y(d[1])).attr('r', 1.8)
        .attr('fill', 'none').attr('stroke', navy).attr('stroke-width', 1.1)

      //equation line
      const sub = g.append('text').attr('x', (f.left + f.right) / 2 - 1).attr('y', f.top - 3)
        .attr('text-anchor', 'middle').attr('font-family', sans).attr('font-size', 11.6).attr('fill', '#333')
      sub.append('tspan').text(equations[i])
      sub.append('tspan').attr('dx', 16).attr('font-style', 'italic').text('R')
      sub.append('tspan').attr('font-size', 6.5).attr('dy', -4).text('2')
      sub.append('tspan').attr('dy', 4).text(' = ' + rSquared[i])

      //x title
      g.append('text').attr('x', (f.left + f.right) / 2 - 1).attr('y', f.bottom + 26.5)
        .attr('text-anchor', 'middle').attr('font-family', sans).attr('font-size', 10.3).attr('fill', '#333').text('lkaitz')

      //note
      const note = g.append('text').attr('x', f.left + 1.5).attr('y', f.bottom + 40.5)
        .attr('font-family', sans).attr('font-size', 8.2).attr('fill', '#555')
      note.append('tspan').attr('font-style', 'italic').text('n')
      note.append('tspan').text(' = 598')
      note.append('tspan').attr('dx', 11).text('RMSE =')
      note.append('tspan').attr('dx', 6).text(rmse[i])
    })
  }, [sandbox])

  return <svg ref={sandbox} width="887" height="723" style={{ position: 'absolute', left: 0, top: 0 }} />
}
